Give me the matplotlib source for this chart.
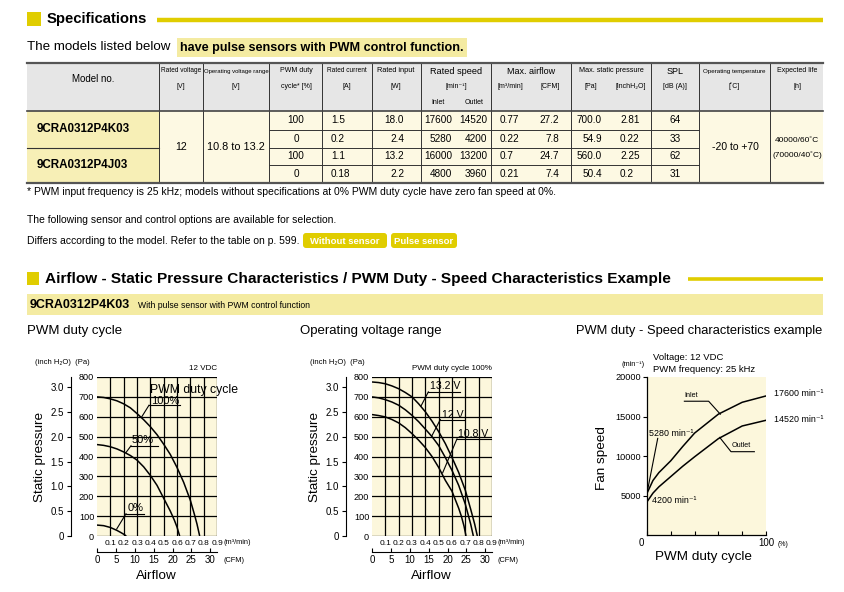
import numpy as np
import matplotlib
matplotlib.use('Agg')
import matplotlib.pyplot as plt
from matplotlib.patches import Rectangle, FancyBboxPatch

plt.rcParams['font.family'] = ['Liberation Sans', 'DejaVu Sans']

W, H = 844, 592
YEL = '#e0cd00'
BAND = '#f4eba2'
CREAM = '#fcf7dc'
MODEL_BG = '#f7efb6'
CELL_BG = '#fdf9e3'
HEAD_BG = '#e6e6e6'

# ---- specification table
models = ['9CRA0312P4K03', '9CRA0312P4J03']
rated_voltage = '12'
op_voltage = '10.8 to 13.2'
pwm_duty = ['100', '0', '100', '0']
rated_current = ['1.5', '0.2', '1.1', '0.18']
rated_input = ['18.0', '2.4', '13.2', '2.2']
speed_inlet = ['17600', '5280', '16000', '4800']
speed_outlet = ['14520', '4200', '13200', '3960']
airflow_m3 = ['0.77', '0.22', '0.7', '0.21']
airflow_cfm = ['27.2', '7.8', '24.7', '7.4']
pressure_pa = ['700.0', '54.9', '560.0', '50.4']
pressure_inch = ['2.81', '0.22', '2.25', '0.2']
spl = ['64', '33', '62', '31']
op_temp = '-20 to +70'
life = ['40000/60˚C', '(70000/40˚C)']

# ---- airflow / static pressure, PWM duty cycle (12 VDC)
q100 = [0, 0.05, 0.1, 0.15, 0.2, 0.25, 0.3, 0.35, 0.4, 0.45, 0.5, 0.55, 0.6, 0.65, 0.7, 0.73, 0.75, 0.77]
p100 = [700, 697, 690, 680, 665, 645, 616, 585, 550, 510, 462, 410, 345, 270, 180, 110, 60, 0]
q50 = [0, 0.05, 0.1, 0.15, 0.2, 0.25, 0.3, 0.35, 0.4, 0.45, 0.5, 0.55, 0.58, 0.6, 0.62]
p50 = [460, 456, 449, 438, 423, 405, 382, 348, 305, 255, 190, 125, 80, 45, 0]
q0 = [0, 0.05, 0.1, 0.15, 0.18, 0.2, 0.22]
p0 = [55, 52, 43, 28, 17, 9, 0]

# ---- airflow / static pressure, voltage range (PWM 100%)
q132 = [0, 0.05, 0.1, 0.15, 0.2, 0.25, 0.3, 0.35, 0.4, 0.45, 0.5, 0.55, 0.6, 0.65, 0.7, 0.74, 0.77, 0.79]
p132 = [775, 772, 766, 755, 741, 722, 700, 665, 625, 578, 525, 465, 395, 320, 230, 135, 60, 0]
q120 = [0, 0.05, 0.1, 0.15, 0.2, 0.25, 0.3, 0.35, 0.4, 0.45, 0.5, 0.55, 0.6, 0.65, 0.7, 0.72, 0.74, 0.76]
p120 = [700, 695, 686, 674, 658, 635, 607, 575, 538, 500, 455, 395, 330, 255, 160, 110, 60, 0]
q108 = [0, 0.05, 0.1, 0.15, 0.2, 0.25, 0.3, 0.35, 0.4, 0.45, 0.5, 0.55, 0.6, 0.65, 0.67, 0.69, 0.705]
p108 = [611, 606, 599, 586, 569, 545, 515, 482, 445, 400, 345, 280, 225, 140, 100, 50, 0]

# ---- PWM duty vs speed
duty = [0, 5, 10, 20, 30, 40, 60, 80, 100]
inlet = [5280, 6900, 7900, 9400, 11200, 12900, 15300, 16800, 17600]
outlet = [4200, 5300, 6100, 7400, 8700, 9900, 12200, 13800, 14520]

m3_ticks = [0.1, 0.2, 0.3, 0.4, 0.5, 0.6, 0.7, 0.8, 0.9]
pa_ticks = [0, 100, 200, 300, 400, 500, 600, 700, 800]
inch_ticks = [0, 0.5, 1.0, 1.5, 2.0, 2.5, 3.0]
cfm_ticks = [0, 5, 10, 15, 20, 25, 30]
rpm_ticks = [5000, 10000, 15000, 20000]
duty_ticks = [0, 20, 40, 60, 80, 100]

fig = plt.figure(figsize=(W / 100, H / 100), dpi=100)
bg = fig.add_axes([0, 0, 1, 1])
bg.set_xlim(0, W)
bg.set_ylim(H, 0)
bg.axis('off')


def txt(x, y, s, size=7, ha='left', va='center', **kw):
    return bg.text(x, y, s, fontsize=size, ha=ha, va=va, **kw)


# ---- headings
bg.add_patch(Rectangle((27, 12), 14, 14, color=YEL, lw=0))
txt(47, 19.5, 'Specifications', 10.7, weight='bold')
bg.plot([157, 823], [20, 20], color=YEL, lw=3.2, solid_capstyle='butt')
txt(27, 47.5, 'The models listed below', 9.6)
txt(180, 47.5, 'have pulse sensors with PWM control function.', 9.1, weight='bold',
    bbox=dict(boxstyle='square,pad=0.25', fc=BAND, ec='none'))

# ---- table
cols = [27, 159, 203, 269, 322, 372, 421, 491, 571, 651, 699, 770, 823]
rows = [63, 111, 129.5, 147.5, 165, 183]
bg.add_patch(Rectangle((27, 63), 796, 48, fc=HEAD_BG, lw=0))
bg.add_patch(Rectangle((27, 111), 132, 72, fc=MODEL_BG, lw=0))
bg.add_patch(Rectangle((159, 111), 664, 72, fc=CELL_BG, lw=0))
for x in cols[1:-1]:
    bg.plot([x, x], [63, 183], color='#333333', lw=0.7)
for y in rows[2:5]:
    bg.plot([269, 699], [y, y], color='#333333', lw=0.7)
bg.plot([27, 159], [147.5, 147.5], color='#333333', lw=0.8)
bg.plot([27, 823], [63, 63], color='#555555', lw=1.6)
bg.plot([27, 823], [111, 111], color='#444444', lw=1.2)
bg.plot([27, 823], [183, 183], color='#555555', lw=1.6)

hs = 5
txt(93, 79, 'Model no.', 7, ha='center')
txt(181, 71, 'Rated voltage', 4.7, ha='center')
txt(181, 86, '[V]', hs, ha='center')
txt(236, 71, 'Operating voltage range', 4.3, ha='center')
txt(236, 86, '[V]', hs, ha='center')
txt(296, 71, 'PWM duty', hs, ha='center')
txt(296, 86, 'cycle* [%]', hs, ha='center')
txt(347, 71, 'Rated current', 4.7, ha='center')
txt(347, 86, '[A]', hs, ha='center')
txt(396, 71, 'Rated input', 5.3, ha='center')
txt(396, 86, '[W]', hs, ha='center')
txt(456, 71, 'Rated speed', 6.6, ha='center')
txt(456, 86, '[min⁻¹]', hs, ha='center')
txt(438, 103, 'Inlet', hs, ha='center')
txt(474, 103, 'Outlet', hs, ha='center')
txt(531, 71, 'Max. airflow', 6.5, ha='center')
txt(510, 86, '[m³/min]', hs, ha='center')
txt(550, 86, '[CFM]', hs, ha='center')
txt(611, 71, 'Max. static pressure', 5.2, ha='center')
txt(591, 86, '[Pa]', hs, ha='center')
txt(631, 86, '[inchH₂O]', hs, ha='center')
txt(675, 71, 'SPL', 6.5, ha='center')
txt(675, 86, '[dB (A)]', hs, ha='center')
txt(734, 71, 'Operating temperature', 4.5, ha='center')
txt(734, 86, '[˚C]', hs, ha='center')
txt(797, 71, 'Expected life', hs, ha='center')
txt(797, 86, '[h]', hs, ha='center')

ds = 7.2
for i, m in enumerate(models):
    txt(37, (rows[1 + 2 * i] + rows[3 + 2 * i]) / 2, m, 8.4, weight='bold')
txt(181, 147, rated_voltage, 7.6, ha='center')
txt(236, 147, op_voltage, 7.8, ha='center')
for i in range(4):
    yc = (rows[1 + i] + rows[2 + i]) / 2
    txt(296, yc, pwm_duty[i], ds, ha='center')
    txt(331, yc, rated_current[i], ds)
    txt(404, yc, rated_input[i], ds, ha='right')
    txt(452, yc, speed_inlet[i], ds, ha='right')
    txt(487, yc, speed_outlet[i], ds, ha='right')
    txt(500, yc, airflow_m3[i], ds)
    txt(559, yc, airflow_cfm[i], ds, ha='right')
    txt(602, yc, pressure_pa[i], ds, ha='right')
    txt(620, yc, pressure_inch[i], ds)
    txt(675, yc, spl[i], ds, ha='center')
txt(735, 147, op_temp, 7.5, ha='center')
txt(797, 140, life[0], 6, ha='center')
txt(797, 155, life[1], 6, ha='center')

# ---- notes
txt(27, 192, '* PWM input frequency is 25 kHz; models without specifications at 0% PWM duty cycle '
    'have zero fan speed at 0%.', 7.45)
txt(27, 220, 'The following sensor and control options are available for selection.', 7.45)
txt(27, 240.5, 'Differs according to the model. Refer to the table on p. 599.', 7.45)
for x0, x1, s in [(303, 387, 'Without sensor'), (391, 457, 'Pulse sensor')]:
    bg.add_patch(FancyBboxPatch((x0, 233), x1 - x0, 15, boxstyle='round,pad=0,rounding_size=3',
                                fc=YEL, ec='none'))
    txt((x0 + x1) / 2, 241, s, 6.8, ha='center', color='white', weight='bold')

# ---- second section heading
bg.add_patch(Rectangle((27, 272), 12, 13, color=YEL, lw=0))
txt(45, 278.5, 'Airflow - Static Pressure Characteristics / PWM Duty - Speed Characteristics Example',
    11.1, weight='bold')
bg.plot([688, 823], [279, 279], color=YEL, lw=2.6, solid_capstyle='butt')
bg.add_patch(Rectangle((27, 294), 796, 21, fc=BAND, lw=0))
txt(30, 304.5, '9CRA0312P4K03', 9, weight='bold')
txt(138, 305.5, 'With pulse sensor with PWM control function', 6.2)
txt(27, 331, 'PWM duty cycle', 9.5)
txt(300, 331, 'Operating voltage range', 9.5)
txt(576, 331, 'PWM duty - Speed characteristics example', 9.3)


def pq_axes(left, curves, labels, note):
    ax = fig.add_axes([left / W, 1 - 536 / H, 120 / W, 159 / H])
    ax.set_facecolor(CREAM)
    for q, p in curves:
        ax.plot(q, p, color='black', lw=1.1, solid_capstyle='butt')
    ax.set_xlim(0, 0.9)
    ax.set_ylim(0, 800)
    ax.set_xticks(m3_ticks)
    ax.set_xticklabels([f'{v:.1f}' for v in m3_ticks])
    ax.set_yticks(pa_ticks)
    ax.grid(color='black', lw=0.9)
    ax.tick_params(axis='y', length=0, labelsize=6.6, pad=2)
    ax.tick_params(axis='x', length=0, labelsize=6, pad=3)
    for s in ax.spines.values():
        s.set_visible(False)
    inch = ax.secondary_yaxis(-26 / 120, functions=(lambda p: p / 249.09, lambda i: i * 249.09))
    inch.set_yticks(inch_ticks)
    inch.set_yticklabels(['0'] + [f'{v:.1f}' for v in inch_ticks[1:]])
    inch.tick_params(direction='out', length=3, width=0.8, labelsize=7, pad=2)
    inch.spines['left'].set_linewidth(0.8)
    cfm = ax.secondary_xaxis(-16 / 159, functions=(lambda m: m * 35.315, lambda c: c / 35.315))
    cfm.set_xticks(cfm_ticks)
    cfm.tick_params(direction='in', length=3, width=0.8, labelsize=7, pad=2)
    cfm.spines['bottom'].set_linewidth(0.8)
    for s, tx, ty, fs, ul, leader in labels:
        ax.text(tx, ty, s, fontsize=fs, va='center')
        ax.plot(ul[0], ul[1], color='black', lw=0.8, clip_on=False)
        ax.plot(leader[0], leader[1], color='black', lw=0.8, clip_on=False)
    cx = left - 97
    txt(cx + 35, 363, '(inch H₂O)  (Pa)', 5.5)
    txt(cx + 217, 369, note, 5.8, ha='right')
    txt(cx + 223, 543, '(m³/min)', 5.3)
    txt(cx + 223, 561, '(CFM)', 5.3)
    txt(cx + 156, 576, 'Airflow', 9.7, ha='center')
    txt(cx + 40, 457, 'Static pressure', 9.7, ha='center', rotation=90)
    return ax


ax1 = pq_axes(97, [(q100, p100), (q50, p50), (q0, p0)], [
    ('100%', 0.405, 679, 8, ([0.39, 0.62], [658, 658]), ([0.39, 0.335], [658, 599])),
    ('50%', 0.26, 482, 8, ([0.255, 0.46], [454, 454]), ([0.255, 0.2175], [454, 420])),
    ('0%', 0.2275, 141, 8, ([0.2175, 0.3525], [112, 112]), ([0.2175, 0.1475], [112, 35])),
], '12 VDC')
ax1.text(0.3975, 736, 'PWM duty cycle', fontsize=8.8, va='center')

ax2 = pq_axes(372, [(q132, p132), (q120, p120), (q108, p108)], [
    ('13.2 V', 0.435, 753, 7.6, ([0.4225, 0.66], [725, 725]), ([0.4225, 0.3675], [725, 654])),
    ('12 V', 0.5225, 611, 7.6, ([0.5125, 0.69], [586, 586]), ([0.5125, 0.4475], [586, 502])),
    ('10.8 V', 0.6475, 512, 7.6, ([0.6375, 0.8925], [489, 489]), ([0.6375, 0.53], [489, 318])),
], 'PWM duty cycle 100%')

# ---- PWM duty - speed chart
ax3 = fig.add_axes([647 / W, 1 - 535 / H, 119 / W, 158 / H])
ax3.set_facecolor(CREAM)
ax3.plot(duty, inlet, color='black', lw=1.1)
ax3.plot(duty, outlet, color='black', lw=1.1)
ax3.set_xlim(0, 100)
ax3.set_ylim(0, 20000)
ax3.spines[['top', 'right']].set_visible(False)
ax3.spines[['left', 'bottom']].set_linewidth(0.9)
ax3.set_xticks(duty_ticks)
ax3.set_xticklabels([''] * len(duty_ticks))
ax3.tick_params(axis='x', direction='in', length=3, width=0.8)
ax3.set_yticks(rpm_ticks)
ax3.tick_params(axis='y', direction='out', length=3, width=0.8, labelsize=6.6, pad=1)
lw = 0.8
ax3.text(31.4, 17690, 'Inlet', fontsize=5.2, va='center')
ax3.plot([31.4, 51.8, 61.6], [16933, 16933, 15294], color='black', lw=lw)
ax3.text(71.4, 11302, 'Outlet', fontsize=5.2, va='center')
ax3.plot([90.2, 70.6, 61.1], [10546, 10546, 12353], color='black', lw=lw)
ax3.text(1.4, 12857, '5280 min⁻¹', fontsize=6.4, va='center')
ax3.plot([9, 0], [12227, 5294], color='black', lw=lw)
ax3.text(4.2, 4370, '4200 min⁻¹', fontsize=6.4, va='center')
ax3.text(106.4, 17899, '17600 min⁻¹', fontsize=6.4, va='center')
ax3.text(106.4, 14622, '14520 min⁻¹', fontsize=6.4, va='center')
txt(653, 357.5, 'Voltage: 12 VDC', 6.8)
txt(653, 370, 'PWM frequency: 25 kHz', 6.8)
txt(645, 365, '(min⁻¹)', 5.3, ha='right')
txt(641, 543, '0', 7, ha='center')
txt(766, 543, '100', 7, ha='center')
txt(778, 544, '(%)', 5, ha='left')
txt(703, 557, 'PWM duty cycle', 9.7, ha='center')
txt(602, 458, 'Fan speed', 9.7, ha='center', rotation=90)

fig.savefig('out.png', dpi=100)
